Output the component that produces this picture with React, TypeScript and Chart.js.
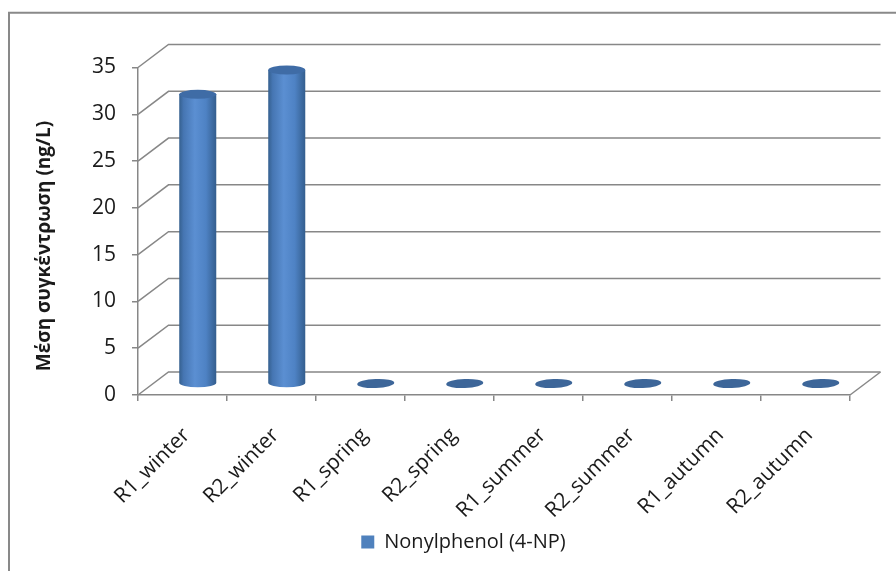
import React, { useEffect, useRef } from "react";
import { Chart, registerables } from "chart.js";

Chart.register(...registerables);

const categories = [
  "R1_winter",
  "R2_winter",
  "R1_spring",
  "R2_spring",
  "R1_summer",
  "R2_summer",
  "R1_autumn",
  "R2_autumn",
];
const seriesName = "Nonylphenol (4-NP)";
const values = [30.9, 33.5, 0, 0, 0, 0, 0, 0];
const yTicks = [0, 5, 10, 15, 20, 25, 30, 35];
const yTitle = "Μέση συγκέντρωση (ng/L)";

const FONT = "'Open Sans', 'DejaVu Sans', sans-serif";
const GRID = "#878787";
const TEXT = "#1a1a1a";
const DX = 30.5;
const DY = 23;

const excel3d = {
  id: "excel3d",
  beforeDraw(chart: any) {
    const ctx = chart.ctx;
    ctx.save();
    ctx.fillStyle = "#ffffff";
    ctx.fillRect(0, 0, chart.width, chart.height);
    ctx.strokeStyle = "#898989";
    ctx.lineWidth = 2;
    ctx.beginPath();
    ctx.moveTo(9, chart.height + 4);
    ctx.lineTo(9, 12.7);
    ctx.lineTo(chart.width + 4, 12.7);
    ctx.stroke();
    ctx.restore();
  },
  beforeDatasetsDraw(chart: any) {
    const { ctx, chartArea, scales } = chart;
    const ys = scales.y;
    ctx.save();
    ctx.strokeStyle = GRID;
    ctx.lineWidth = 1.5;
    ys.ticks.forEach((t: any) => {
      const p = ys.getPixelForValue(t.value);
      ctx.beginPath();
      ctx.moveTo(chartArea.left, p);
      ctx.lineTo(chartArea.left + DX, p - DY);
      ctx.lineTo(chartArea.right + DX, p - DY);
      ctx.stroke();
    });
    ctx.beginPath();
    ctx.moveTo(chartArea.right, chartArea.bottom);
    ctx.lineTo(chartArea.right + DX, chartArea.bottom - DY);
    ctx.stroke();

    const meta = chart.getDatasetMeta(0);
    meta.data.forEach((bar: any) => {
      const { x, y, base, width } = bar.getProps(["x", "y", "base", "width"], true);
      const cx = x + DX / 2;
      const rx = width / 2;
      const ry = 4.5;
      const yt = y - DY / 2;
      const yb = base - DY / 2;
      if (yb - yt < 1.5) {
        ctx.fillStyle = "#3d6699";
        ctx.beginPath();
        ctx.ellipse(cx, yb, rx, ry, -0.04, 0, Math.PI * 2);
        ctx.fill();
        return;
      }
      const g = ctx.createLinearGradient(cx - rx, 0, cx + rx, 0);
      g.addColorStop(0, "#35608f");
      g.addColorStop(0.12, "#4676b3");
      g.addColorStop(0.42, "#5b8fd2");
      g.addColorStop(0.72, "#4e82c4");
      g.addColorStop(1, "#345e8e");
      ctx.fillStyle = g;
      ctx.beginPath();
      ctx.moveTo(cx - rx, yt);
      ctx.lineTo(cx - rx, yb);
      ctx.ellipse(cx, yb, rx, ry, 0, Math.PI, 0, true);
      ctx.lineTo(cx + rx, yt);
      ctx.closePath();
      ctx.fill();
      ctx.fillStyle = "#3f6ca6";
      ctx.beginPath();
      ctx.ellipse(cx, yt, rx, ry, 0, 0, Math.PI * 2);
      ctx.fill();
    });
    ctx.restore();
    return false;
  },
};

export default function App() {
  const ref = useRef<HTMLCanvasElement | null>(null);
  useEffect(() => {
    if (!ref.current) return;
    const chart = new Chart(ref.current, {
      type: "bar",
      data: {
        labels: categories,
        datasets: [
          {
            label: seriesName,
            data: values,
            backgroundColor: "#4F81BD",
            borderWidth: 0,
            barPercentage: 0.416,
            categoryPercentage: 1,
          },
        ],
      },
      options: {
        responsive: false,
        animation: false,
        devicePixelRatio: 1,
        layout: { padding: { left: 31, right: 0, top: 67.5, bottom: 9 } },
        plugins: {
          legend: {
            position: "bottom",
            labels: {
              boxWidth: 13,
              boxHeight: 13,
              padding: 10,
              color: TEXT,
              font: { family: FONT, size: 20 },
            },
          },
          tooltip: { enabled: false },
        },
        scales: {
          x: {
            offset: true,
            grid: {
              offset: true,
              drawOnChartArea: false,
              drawTicks: true,
              tickLength: 6,
              color: GRID,
              lineWidth: 1.5,
            },
            border: { display: true, color: GRID, width: 1.5 },
            ticks: {
              minRotation: 45,
              maxRotation: 45,
              autoSkip: false,
              padding: 22,
              labelOffset: 4,
              color: TEXT,
              font: { family: FONT, size: 21 },
            },
            afterFit: (s: any) => {
              s.height = 127;
            },
          },
          y: {
            min: yTicks[0],
            max: yTicks[yTicks.length - 1],
            ticks: {
              stepSize: yTicks[1] - yTicks[0],
              padding: 16,
              color: TEXT,
              font: { family: FONT, size: 21 },
            },
            grid: {
              drawOnChartArea: false,
              drawTicks: true,
              tickLength: 6,
              color: GRID,
              lineWidth: 1.5,
            },
            border: { display: true, color: GRID, width: 1.5 },
            title: {
              display: true,
              text: yTitle + "\u00A0\u00A0\u00A0\u00A0\u00A0\u00A0",
              color: TEXT,
              font: { family: FONT, size: 19, weight: "bold" },
              padding: { top: 2, bottom: 0 },
            },
            afterFit: (s: any) => {
              s.width = 107;
            },
          },
          yR: {
            position: "right",
            display: true,
            ticks: { display: false },
            grid: { display: false },
            border: { display: false },
            afterFit: (s: any) => {
              s.width = 46;
            },
          },
        },
      },
      plugins: [excel3d],
    } as any);
    return () => chart.destroy();
  }, []);
  return (
    <div style={{ position: "absolute", left: 0, top: 0, width: 896, height: 571 }}>
      <canvas ref={ref} width={896} height={571} style={{ display: "block" }} />
    </div>
  );
}
